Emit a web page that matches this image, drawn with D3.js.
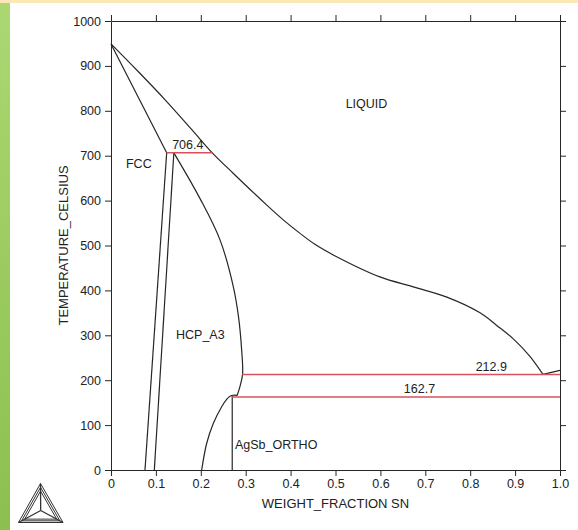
<!DOCTYPE html>
<html>
<head>
<meta charset="utf-8">
<script src="https://cdn.jsdelivr.net/npm/d3@7"></script>
<style>
  html, body { margin: 0; padding: 0; background: #fff; }
  svg { display: block; font-family: "Liberation Sans", Arial, Helvetica, sans-serif; }
</style>
</head>
<body>
<svg id="chart" width="578" height="530"></svg>
<script>
// ---- data ----
const xTicks = [0, 0.1, 0.2, 0.3, 0.4, 0.5, 0.6, 0.7, 0.8, 0.9, 1.0];
const xTickLabels = ["0", "0.1", "0.2", "0.3", "0.4", "0.5", "0.6", "0.7", "0.8", "0.9", "1.0"];
const yTicks = [0, 100, 200, 300, 400, 500, 600, 700, 800, 900, 1000];
const yTickLabels = ["0", "100", "200", "300", "400", "500", "600", "700", "800", "900", "1000"];

// liquidus (Ag-rich side to eutectic)
const liquidusX = [0, 0.06, 0.12, 0.18, 0.2256, 0.272, 0.347, 0.385, 0.421, 0.455, 0.495, 0.599, 0.673, 0.748, 0.822, 0.859, 0.896, 0.933, 0.962];
const liquidusT = [949, 888, 825, 758, 706.4, 661, 590, 556, 527, 502, 479, 430, 408, 385, 350, 322, 292, 253, 212.9];
// Sn-rich liquidus
const snLiquidusX = [0.962, 1.0];
const snLiquidusT = [212.9, 222];
// FCC solidus
const fccSolidusX = [0, 0.124];
const fccSolidusT = [949, 706.4];
// FCC solvus
const fccSolvusX = [0.124, 0.0757];
const fccSolvusT = [706.4, 0];
// HCP left boundary
const hcpLeftX = [0.140, 0.0965];
const hcpLeftT = [706.4, 0];
// HCP right boundary
const hcpRightX = [0.140, 0.198, 0.243, 0.2725, 0.284, 0.291, 0.293, 0.287, 0.281];
const hcpRightT = [706.4, 605, 512, 408, 341, 267, 213, 185, 166];
// AgSb_ORTHO left boundary
const agsbX = [0.202, 0.213, 0.228, 0.2465, 0.258, 0.266, 0.272, 0.281];
const agsbT = [0, 59, 104, 141, 158, 165, 166.5, 166];
// AgSb_ORTHO right (line compound boundary)
const agsbRightX = [0.270, 0.270];
const agsbRightT = [0, 166];
// invariant isotherms
const isoT = [706.4, 212.9, 162.7];
const isoX0 = [0.124, 0.292, 0.270];
const isoX1 = [0.2256, 1.0, 1.0];
const isoLabels = ["706.4", "212.9", "162.7"];
// phase labels
const phaseNames = ["LIQUID", "FCC", "HCP_A3", "AgSb_ORTHO"];
const phaseX = [0.569, 0.062, 0.199, 0.276];
const phaseT = [816, 681, 300, 56];

// ---- layout ----
const svg = d3.select("#chart");
const L = 111, R = 560, T = 21, B = 470;
const x = d3.scaleLinear().domain([0, 1]).range([L, R]);
const y = d3.scaleLinear().domain([0, 1000]).range([B, T]);
const ink = "#262626";
const red = "#d9505e";

// background decorations
const defs = svg.append("defs");
const g1 = defs.append("linearGradient").attr("id", "gbar").attr("x1", 0).attr("y1", 0).attr("x2", 0).attr("y2", 1);
g1.append("stop").attr("offset", "0%").attr("stop-color", "#abd872");
g1.append("stop").attr("offset", "100%").attr("stop-color", "#8cbf4f");
svg.append("rect").attr("x", 0).attr("y", 0).attr("width", 578).attr("height", 3).attr("fill", "#fbe8b6");
svg.append("rect").attr("x", 0).attr("y", 3).attr("width", 10).attr("height", 527).attr("fill", "url(#gbar)");

// axes
function styleAxis(g) {
  g.selectAll("path.domain").attr("stroke", ink).attr("stroke-width", 1);
  g.selectAll(".tick line").attr("stroke", ink).attr("stroke-width", 1);
  g.selectAll(".tick text").attr("fill", "#222").attr("font-size", "12.5px")
    .attr("font-family", "'Liberation Sans', Arial, sans-serif");
}
const axB = svg.append("g").attr("transform", `translate(0,${B})`)
  .call(d3.axisBottom(x).tickValues(xTicks).tickSize(6).tickSizeOuter(0).tickPadding(3)
    .tickFormat((d, i) => xTickLabels[i]));
styleAxis(axB);
const axL = svg.append("g").attr("transform", `translate(${L},0)`)
  .call(d3.axisLeft(y).tickValues(yTicks).tickSize(6).tickSizeOuter(0).tickPadding(4)
    .tickFormat((d, i) => yTickLabels[i]));
styleAxis(axL);
const axT = svg.append("g").attr("transform", `translate(0,${T})`)
  .call(d3.axisTop(x).tickValues(xTicks).tickSize(6).tickSizeOuter(0).tickFormat(""));
styleAxis(axT);
const axR = svg.append("g").attr("transform", `translate(${R},0)`)
  .call(d3.axisRight(y).tickValues(yTicks).tickSize(6).tickSizeOuter(0).tickFormat(""));
styleAxis(axR);

// axis titles
svg.append("text").attr("x", (L + R) / 2).attr("y", 503).attr("text-anchor", "middle")
  .attr("dominant-baseline", "central").attr("font-size", "13px").attr("fill", "#222")
  .text("WEIGHT_FRACTION SN");
svg.append("text").attr("transform", `translate(63,${(T + B) / 2}) rotate(-90)`)
  .attr("text-anchor", "middle").attr("dominant-baseline", "central")
  .attr("font-size", "13px").attr("fill", "#222").text("TEMPERATURE_CELSIUS");

// curves
const plot = svg.append("g");
function drawCurve(xs, ts, curve) {
  const pts = xs.map((v, i) => [v, ts[i]]);
  const line = d3.line().x(d => x(d[0])).y(d => y(d[1])).curve(curve || d3.curveLinear);
  plot.append("path").attr("d", line(pts)).attr("fill", "none")
    .attr("stroke", ink).attr("stroke-width", 1.2).attr("stroke-linejoin", "round");
}
drawCurve(liquidusX, liquidusT, d3.curveCatmullRom.alpha(0.5));
drawCurve(snLiquidusX, snLiquidusT);
drawCurve(fccSolidusX, fccSolidusT);
drawCurve(fccSolvusX, fccSolvusT);
drawCurve(hcpLeftX, hcpLeftT);
drawCurve(hcpRightX, hcpRightT, d3.curveCatmullRom.alpha(0.5));
drawCurve(agsbX, agsbT, d3.curveCatmullRom.alpha(0.5));
drawCurve(agsbRightX, agsbRightT);

// isotherms
isoT.forEach((t, i) => {
  plot.append("line").attr("x1", x(isoX0[i])).attr("x2", x(isoX1[i]))
    .attr("y1", y(t)).attr("y2", y(t)).attr("stroke", red).attr("stroke-width", 1.5);
});
// isotherm labels
const isoLabelX = [0.171, 0.847, 0.687];
const isoLabelT = [724, 230, 180];
isoLabels.forEach((s, i) => {
  svg.append("text").attr("x", x(isoLabelX[i])).attr("y", y(isoLabelT[i]))
    .attr("text-anchor", "middle").attr("dominant-baseline", "central")
    .attr("font-size", "12.5px").attr("fill", "#222").text(s);
});
// phase labels
const phaseAnchor = ["middle", "middle", "middle", "start"];
phaseNames.forEach((s, i) => {
  svg.append("text").attr("x", x(phaseX[i])).attr("y", y(phaseT[i]))
    .attr("text-anchor", phaseAnchor[i]).attr("dominant-baseline", "central")
    .attr("font-size", "12.5px").attr("fill", "#222").text(s);
});

// logo (Thermo-Calc style triangle)
const logo = svg.append("g").attr("fill", "none").attr("stroke", "#333").attr("stroke-width", 1);
const A = [40.5, 483.5], BL = [18.5, 522.5], BR = [63, 522.5], C = [40.7, 510.5];
function tri(s) {
  const p = [A, BL, BR].map(v => [C[0] + (v[0] - C[0]) * s, C[1] + (v[1] - C[1]) * s]);
  return "M" + p.map(q => q.join(",")).join("L") + "Z";
}
[1, 0.86, 0.72].forEach(s => logo.append("path").attr("d", tri(s)));
[A, BL, BR].forEach(v => logo.append("line").attr("x1", v[0]).attr("y1", v[1]).attr("x2", C[0]).attr("y2", C[1]).attr("stroke-width", 1.3));
</script>
</body>
</html>
